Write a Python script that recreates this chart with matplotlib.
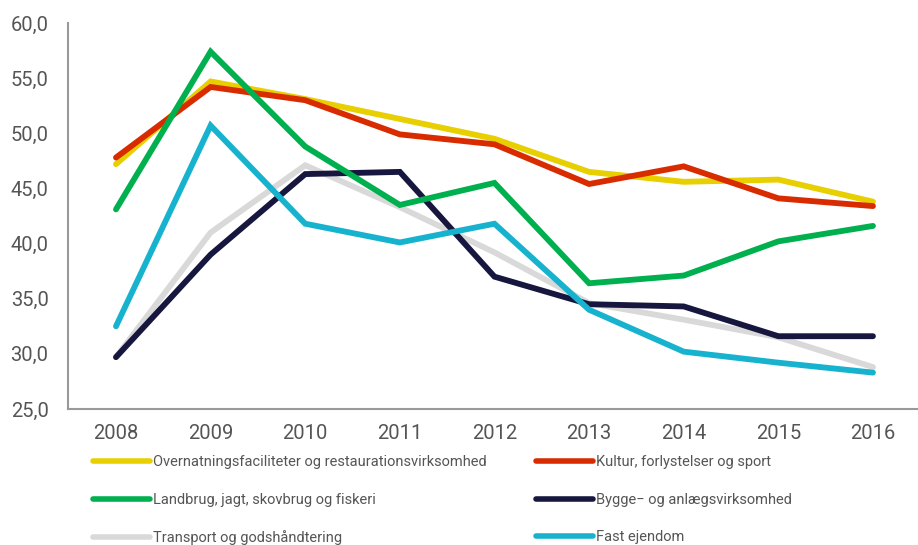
import matplotlib
matplotlib.use("Agg")
import matplotlib.pyplot as plt
from matplotlib.ticker import FuncFormatter

years = [2008, 2009, 2010, 2011, 2012, 2013, 2014, 2015, 2016]
overnatning = [47.2, 54.7, 53.1, 51.3, 49.5, 46.5, 45.6, 45.8, 43.8]
kultur = [47.8, 54.2, 53.0, 49.9, 49.0, 45.4, 47.0, 44.1, 43.4]
landbrug = [43.1, 57.4, 48.8, 43.5, 45.5, 36.4, 37.1, 40.2, 41.6]
bygge = [29.7, 39.0, 46.3, 46.5, 37.0, 34.5, 34.3, 31.6, 31.6]
transport = [29.7, 41.0, 47.1, 43.3, 39.2, 34.6, 33.1, 31.5, 28.8]
fast = [32.5, 50.7, 41.8, 40.1, 41.8, 34.0, 30.2, 29.2, 28.3]

labels = {
    "overnatning": "Overnatningsfaciliteter og restaurationsvirksomhed",
    "kultur": "Kultur, forlystelser og sport",
    "landbrug": "Landbrug, jagt, skovbrug og fiskeri",
    "bygge": "Bygge\u2212 og anlægsvirksomhed",
    "transport": "Transport og godshåndtering",
    "fast": "Fast ejendom",
}
colors = {
    "overnatning": "#E8CF00",
    "kultur": "#D92B00",
    "landbrug": "#00B04F",
    "bygge": "#16163E",
    "transport": "#D9D9D9",
    "fast": "#17B3CE",
}
yticks = [25, 30, 35, 40, 45, 50, 55, 60]

plt.rcParams['font.family'] = ['Roboto', 'DejaVu Sans']

fig = plt.figure(figsize=(9.18, 5.45), dpi=100)
ax = fig.add_axes([68/918, 1-409/545, 1-68/918, (409-23)/545])

series = {
    "transport": transport,
    "overnatning": overnatning,
    "kultur": kultur,
    "bygge": bygge,
    "landbrug": landbrug,
    "fast": fast,
}
lines = {}
for key, vals in series.items():
    ln, = ax.plot(years, vals, color=colors[key], lw=4.2, solid_capstyle='round',
                  solid_joinstyle='miter', label=labels[key])
    lines[key] = ln

ax.set_xlim(2008 - 0.507, 2016 + 0.476)
ax.set_ylim(25, 60)
ax.set_yticks(yticks)
ax.set_xticks(years)
ax.yaxis.set_major_formatter(FuncFormatter(lambda v, p: f"{v:.1f}".replace(".", ",")))
ax.tick_params(axis='both', length=0, labelsize=14.5, colors='#555555')
ax.tick_params(axis='x', pad=11)
ax.tick_params(axis='y', pad=14)
for s in ['top', 'right']:
    ax.spines[s].set_visible(False)
for s in ['left', 'bottom']:
    ax.spines[s].set_color('#999999')
    ax.spines[s].set_linewidth(1.5)

leg_kw = dict(frameon=False, fontsize=10.5, handlelength=3.9, handletextpad=0.2,
              labelspacing=1.62, labelcolor='#555555', borderaxespad=0, borderpad=0)
left_keys = ["overnatning", "landbrug", "transport"]
right_keys = ["kultur", "bygge", "fast"]
l1 = fig.legend([lines[k] for k in left_keys], [labels[k] for k in left_keys],
                loc='upper left', bbox_to_anchor=(93/918, 1-455/545), **leg_kw)
l2 = fig.legend([lines[k] for k in right_keys], [labels[k] for k in right_keys],
                loc='upper left', bbox_to_anchor=(536/918, 1-455/545), **leg_kw)
for leg in (l1, l2):
    for h in leg.legend_handles:
        h.set_linewidth(4)

fig.savefig("out.png", dpi=100)
